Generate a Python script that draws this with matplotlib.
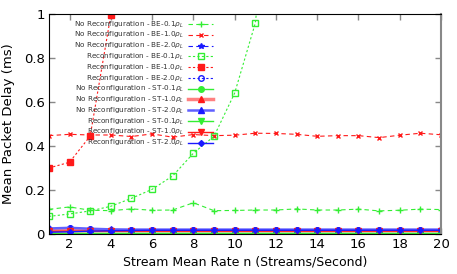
import matplotlib
matplotlib.use("Agg")
import matplotlib.pyplot as plt

rates = list(range(1, 21))

# No Reconfiguration, best effort
nr_be_01 = [0.112, 0.123, 0.108, 0.106, 0.114, 0.108, 0.109, 0.142, 0.106, 0.107,
            0.109, 0.109, 0.114, 0.109, 0.109, 0.113, 0.105, 0.108, 0.113, 0.111]
nr_be_10 = [0.447, 0.453, 0.450, 0.450, 0.443, 0.455, 0.440, 0.452, 0.447, 0.449,
            0.458, 0.457, 0.453, 0.444, 0.447, 0.447, 0.438, 0.449, 0.458, 0.451]
nr_be_20 = [0.020, 0.028, 0.022, 0.020, 0.019, 0.019, 0.019, 0.019, 0.019, 0.019,
            0.019, 0.020, 0.020, 0.020, 0.020, 0.020, 0.020, 0.020, 0.020, 0.020]
# Reconfiguration, best effort (curves leave the plot)
r_be_01_x = [1, 2, 3, 4, 5, 6, 7, 8, 9, 10, 11, 12]
r_be_01 = [0.080, 0.091, 0.105, 0.126, 0.162, 0.203, 0.264, 0.367, 0.444, 0.640, 0.958, 1.8]
r_be_10_x = [1, 2, 3, 4]
r_be_10 = [0.300, 0.326, 0.445, 0.995]
r_be_20 = [0.022, 0.026, 0.022, 0.020, 0.019, 0.019, 0.019, 0.019, 0.019, 0.019,
           0.019, 0.020, 0.020, 0.020, 0.020, 0.020, 0.020, 0.020, 0.020, 0.020]
# No Reconfiguration, scheduled traffic
nr_st_01 = [0.003] * 20
nr_st_10 = [0.016, 0.015, 0.015, 0.015, 0.015, 0.015, 0.015, 0.015, 0.015, 0.015,
            0.015, 0.015, 0.015, 0.015, 0.015, 0.015, 0.015, 0.015, 0.015, 0.015]
nr_st_20 = [0.025, 0.028, 0.024, 0.021, 0.020, 0.020, 0.020, 0.020, 0.020, 0.020,
            0.020, 0.020, 0.020, 0.020, 0.020, 0.020, 0.020, 0.020, 0.020, 0.020]
# Reconfiguration, scheduled traffic
r_st_01 = [0.004] * 20
r_st_10 = [0.012, 0.013, 0.013, 0.013, 0.013, 0.013, 0.013, 0.013, 0.013, 0.013,
           0.013, 0.013, 0.013, 0.013, 0.013, 0.013, 0.013, 0.013, 0.013, 0.013]
r_st_20 = [0.008, 0.010, 0.013, 0.015, 0.016, 0.017, 0.017, 0.017, 0.017, 0.017,
           0.017, 0.017, 0.017, 0.017, 0.017, 0.017, 0.017, 0.017, 0.017, 0.017]

GREEN = "#33ee33"
RED = "#ff1a1a"
BLUE = "#1a1aff"

fig = plt.figure(figsize=(4.57, 2.74), dpi=100)
ax = fig.add_axes([0.107, 0.146, 0.858, 0.803])

lw = 0.8
ms = 4
ax.plot(rates, nr_be_01, color=GREEN, ls=(0, (4, 3)), lw=lw, marker="+", ms=ms,
        label="No Reconfiguration - BE-0.1$\\rho_L$")
ax.plot(rates, nr_be_10, color=RED, ls=(0, (4, 3)), lw=lw, marker="x", ms=3.5,
        label="No Reconfiguration - BE-1.0$\\rho_L$")
ax.plot(rates, nr_be_20, color=BLUE, ls=(0, (4, 3)), lw=lw, marker="*", ms=ms,
        label="No Reconfiguration - BE-2.0$\\rho_L$")
ax.plot(r_be_01_x, r_be_01, color=GREEN, ls=(0, (2, 2)), lw=lw, marker="s", ms=ms,
        mfc="none", label="Reconfiguration - BE-0.1$\\rho_L$")
ax.plot(r_be_10_x, r_be_10, color=RED, ls=(0, (2, 2)), lw=lw, marker="s", ms=ms,
        label="Reconfiguration - BE-1.0$\\rho_L$")
ax.plot(rates, r_be_20, color=BLUE, ls=(0, (2, 2)), lw=lw, marker="o", ms=ms,
        mfc="none", label="Reconfiguration - BE-2.0$\\rho_L$")
ax.plot(rates, nr_st_01, color=GREEN, lw=1.0, marker="o", ms=ms,
        label="No Reconfiguration - ST-0.1$\\rho_L$")
ax.plot(rates, nr_st_10, color="#ff8080", lw=2.5, marker="^", ms=ms, mfc=RED, mec=RED,
        label="No Reconfiguration - ST-1.0$\\rho_L$")
ax.plot(rates, nr_st_20, color="#6060ff", lw=1.8, marker="^", ms=ms, mfc=BLUE, mec=BLUE,
        label="No Reconfiguration - ST-2.0$\\rho_L$")
ax.plot(rates, r_st_01, color=GREEN, lw=1.0, marker="v", ms=ms,
        label="Reconfiguration - ST-0.1$\\rho_L$")
ax.plot(rates, r_st_10, color=RED, lw=1.0, marker="v", ms=ms,
        label="Reconfiguration - ST-1.0$\\rho_L$")
ax.plot(rates, r_st_20, color=BLUE, lw=1.0, marker="D", ms=3,
        label="Reconfiguration - ST-2.0$\\rho_L$")

ax.set_xlim(1, 20)
ax.set_ylim(0, 1)
ax.set_xticks(range(2, 21, 2))
ax.set_yticks([0, 0.2, 0.4, 0.6, 0.8, 1])
ax.set_yticklabels(["0", "0.2", "0.4", "0.6", "0.8", "1"])
ax.tick_params(direction="in", top=True, right=True, length=4, width=1,
               color="#888888", labelsize=9.5, pad=3)
for s in ["left", "bottom", "top"]:
    ax.spines[s].set_color("black")
ax.spines["right"].set_color("#888888")
ax.spines["right"].set_linewidth(1.5)

ax.set_xlabel("Stream Mean Rate n (Streams/Second)", fontsize=9, labelpad=3)
ax.set_ylabel("Mean Packet Delay (ms)", fontsize=9.5, labelpad=6)

leg = ax.legend(loc="upper right", bbox_to_anchor=(0.418, 0.975), frameon=False,
                markerfirst=False, fontsize=5.2, handlelength=3.4, handletextpad=0.6,
                labelspacing=0.08, borderpad=0, borderaxespad=0)
for t in leg.get_texts():
    t.set_color("#333333")

fig.savefig("out.png", dpi=100)
